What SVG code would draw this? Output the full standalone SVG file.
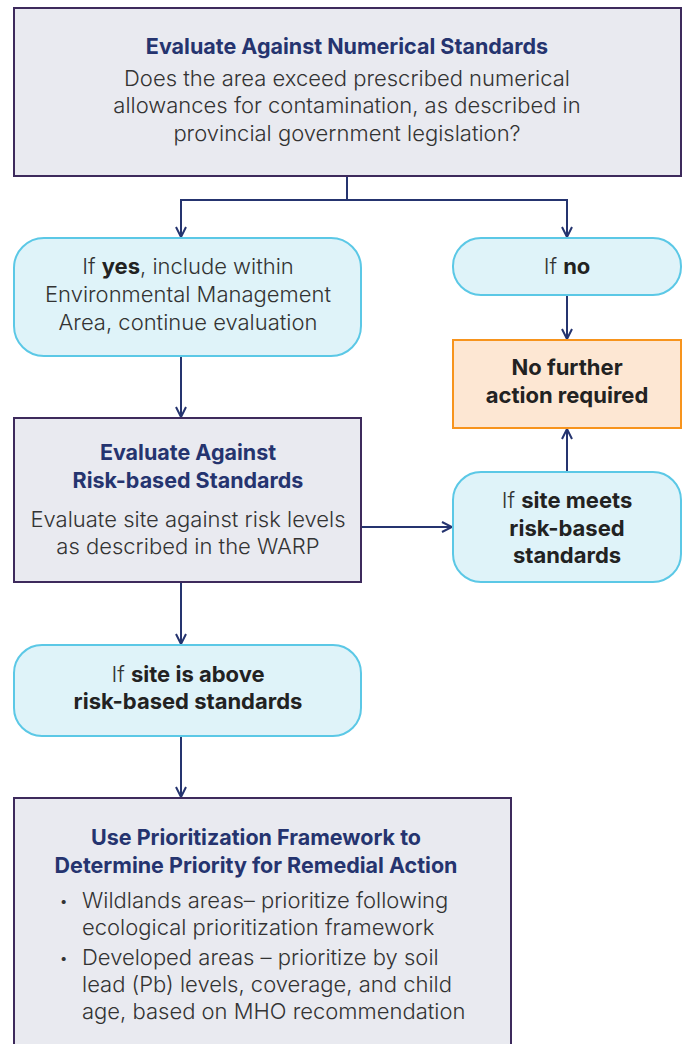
<svg xmlns="http://www.w3.org/2000/svg" width="688" height="1044" viewBox="0 0 688 1044">
<style>
.box{fill:#e9eaf0;stroke:#3d2a5c;stroke-width:2}
.pill{fill:#dff3f9;stroke:#5bc8e6;stroke-width:2}
.stop{fill:#fde7d3;stroke:#f7941d;stroke-width:2}
.t{font-family:Inter,"Noto Sans",sans-serif;font-size:22px;text-anchor:middle}
.h{fill:#25346f;font-weight:700;font-size:21.5px}
.b{fill:#333;font-weight:300}
.k{fill:#222;font-weight:700}
.l{font-family:Inter,"Noto Sans",sans-serif;font-size:22px;fill:#333;font-weight:300}
.d{font-family:Inter,"Noto Sans",sans-serif;font-size:13px;fill:#333}
.c{fill:none;stroke:#25346f;stroke-width:2}
</style>
<defs>
<marker id="ar" viewBox="0 0 12 12" refX="11" refY="6" markerWidth="12" markerHeight="12" markerUnits="userSpaceOnUse" orient="auto">
<path d="M1,1 L11,6 L1,11" fill="none" stroke="#25346f" stroke-width="2"/>
</marker>
</defs>
<g id="connectors">
<path class="c" d="M347,176 V200 H181 V237" marker-end="url(#ar)"/>
<path class="c" d="M347,200 H567 V237" marker-end="url(#ar)"/>
<path class="c" d="M567,295 V339" marker-end="url(#ar)"/>
<path class="c" d="M181,356 V417" marker-end="url(#ar)"/>
<path class="c" d="M361,527 H452" marker-end="url(#ar)"/>
<path class="c" d="M567,472 V429" marker-end="url(#ar)"/>
<path class="c" d="M181,582 V644" marker-end="url(#ar)"/>
<path class="c" d="M181,736 V797" marker-end="url(#ar)"/>
</g>
<g id="numerical">
<rect class="box" x="14" y="8" width="667" height="168"/>
<text class="t h" x="347" y="54">Evaluate Against Numerical Standards</text>
<text class="t b" x="347" y="86">Does the area exceed prescribed numerical</text>
<text class="t b" x="347" y="113">allowances for contamination, as described in</text>
<text class="t b" x="347" y="141">provincial government legislation?</text>
</g>
<g id="yes">
<rect class="pill" x="14" y="238" width="347" height="118" rx="30"/>
<text class="t b" x="188" y="274">If <tspan class="k">yes</tspan>, include within</text>
<text class="t b" x="188" y="302">Environmental Management</text>
<text class="t b" x="188" y="330">Area, continue evaluation</text>
</g>
<g id="no">
<rect class="pill" x="453" y="238" width="228" height="57" rx="28"/>
<text class="t b" x="567" y="274">If <tspan class="k">no</tspan></text>
</g>
<g id="nofurther">
<rect class="stop" x="453" y="340" width="228" height="88"/>
<text class="t k" x="567" y="375">No further</text>
<text class="t k" x="567" y="403">action required</text>
</g>
<g id="risk">
<rect class="box" x="14" y="418" width="347" height="164"/>
<text class="t h" x="188" y="460">Evaluate Against</text>
<text class="t h" x="188" y="488">Risk-based Standards</text>
<text class="t b" x="188" y="527">Evaluate site against risk levels</text>
<text class="t b" x="188" y="554">as described in the WARP</text>
</g>
<g id="meets">
<rect class="pill" x="453" y="472" width="228" height="110" rx="28"/>
<text class="t b" x="567" y="508">If <tspan class="k">site meets</tspan></text>
<text class="t k" x="567" y="536">risk-based</text>
<text class="t k" x="567" y="563">standards</text>
</g>
<g id="above">
<rect class="pill" x="14" y="645" width="347" height="91" rx="28"/>
<text class="t b" x="188" y="682">If <tspan class="k">site is above</tspan></text>
<text class="t k" x="188" y="709">risk-based standards</text>
</g>
<g id="prioritize">
<rect class="box" x="14" y="798" width="497" height="260"/>
<text class="t h" x="256" y="845">Use Prioritization Framework to</text>
<text class="t h" x="256" y="873">Determine Priority for Remedial Action</text>
<text class="d" x="60" y="906">•</text>
<text class="l" x="82" y="908">Wildlands areas– prioritize following</text>
<text class="l" x="82" y="935">ecological prioritization framework</text>
<text class="d" x="60" y="963">•</text>
<text class="l" x="82" y="965">Developed areas – prioritize by soil</text>
<text class="l" x="82" y="992">lead (Pb) levels, coverage, and child</text>
<text class="l" x="82" y="1019">age, based on MHO recommendation</text>
</g>
</svg>
